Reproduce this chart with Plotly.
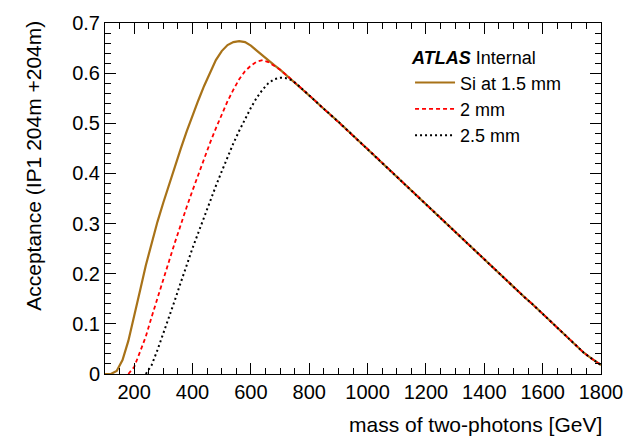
import plotly.graph_objects as go

# Acceptance vs. di-photon mass for three silicon-detector distances.
# Values are per 20 GeV step; above 760 GeV the three curves coincide.
mass_step = 20

mass_start_si15 = 100
accept_si15_low = [0.0, 0.0, 0.006, 0.028, 0.066, 0.114, 0.166, 0.217, 0.263, 0.304,
                   0.342, 0.379, 0.415, 0.450, 0.484, 0.516, 0.546, 0.575, 0.602, 0.626,
                   0.644, 0.656, 0.662, 0.664, 0.662, 0.655, 0.645, 0.635, 0.626, 0.616,
                   0.607, 0.597, 0.587]

mass_start_2mm = 180
accept_2mm_low = [0.0, 0.014, 0.044, 0.075, 0.114, 0.153, 0.190, 0.226, 0.263, 0.299,
                  0.333, 0.366, 0.398, 0.431, 0.461, 0.490, 0.518, 0.544, 0.567, 0.588,
                  0.604, 0.615, 0.623, 0.626, 0.622, 0.615, 0.607, 0.597, 0.587]

mass_start_25mm = 240
accept_25mm_low = [0.0, 0.018, 0.048, 0.080, 0.114, 0.148, 0.183, 0.218, 0.251, 0.282,
                   0.314, 0.346, 0.375, 0.404, 0.433, 0.460, 0.485, 0.509, 0.531, 0.551,
                   0.567, 0.580, 0.588, 0.591, 0.590, 0.586]

# common high-mass part (760 ... 1800 GeV)
mass_start_high = 760
accept_high = [0.577, 0.566, 0.556, 0.545, 0.534, 0.524, 0.514, 0.503, 0.492, 0.481,
               0.470, 0.459, 0.449, 0.438, 0.427, 0.416, 0.405, 0.394, 0.383, 0.372,
               0.361, 0.350, 0.339, 0.328, 0.317, 0.306, 0.295, 0.283, 0.271, 0.260,
               0.249, 0.238, 0.227, 0.216, 0.205, 0.195, 0.184, 0.174, 0.163, 0.152,
               0.142, 0.131, 0.120, 0.108, 0.097, 0.086, 0.075, 0.064, 0.053, 0.043,
               0.034, 0.026, 0.018]

x_tickvals = [200, 400, 600, 800, 1000, 1200, 1400, 1600, 1800]
y_tickvals = [0, 0.1, 0.2, 0.3, 0.4, 0.5, 0.6, 0.7]
y_ticktext = ["0", "0.1", "0.2", "0.3", "0.4", "0.5", "0.6", "0.7"]

series_names = ["Si at 1.5 mm", "2 mm", "2.5 mm"]
series_colors = ["rgb(168,114,24)", "rgb(255,0,0)", "rgb(0,0,0)"]
series_dash = ["solid", "4px,3px", "2px,3px"]
series_width = [2.2, 1.8, 2.0]


def full_series(start, low):
    acc = low + accept_high
    mass = [start + mass_step * i for i in range(len(acc))]
    return mass, acc


series = [
    full_series(mass_start_si15, accept_si15_low),
    full_series(mass_start_2mm, accept_2mm_low),
    full_series(mass_start_25mm, accept_25mm_low),
]

FONT = "Liberation Sans, Arial, Helvetica, sans-serif"

fig = go.Figure()
for (m, a), name, col, dash, w in zip(series, series_names, series_colors,
                                      series_dash, series_width):
    fig.add_trace(go.Scatter(
        x=m, y=a, mode="lines", name=name,
        line=dict(color=col, dash=dash, width=w),
    ))

axis_common = dict(
    showline=True, linecolor="black", linewidth=1, mirror="ticks",
    ticks="inside", ticklen=11, tickwidth=1, tickcolor="black",
    showgrid=False, zeroline=False,
    tickfont=dict(family=FONT, size=20, color="black"),
)

fig.update_xaxes(
    range=[100, 1800], tickvals=x_tickvals,
    minor=dict(ticks="inside", ticklen=6, dtick=50, tick0=0, tickcolor="black"),
    **axis_common,
)
fig.update_yaxes(
    range=[0, 0.7], tickvals=y_tickvals, ticktext=y_ticktext,
    minor=dict(ticks="inside", ticklen=6, dtick=0.02, tick0=0, tickcolor="black"),
    **axis_common,
)

fig.update_layout(
    width=635, height=437,
    margin=dict(l=105, r=30, t=16, b=63),
    paper_bgcolor="white", plot_bgcolor="white",
    font=dict(family=FONT, color="black"),
    showlegend=True,
    legend=dict(
        x=0.615, y=0.949, xanchor="left", yanchor="top",
        bgcolor="rgba(0,0,0,0)", borderwidth=0,
        font=dict(family=FONT, size=18, color="black"),
        title=dict(text="<b><i>ATLAS</i></b> Internal",
                   font=dict(family=FONT, size=18, color="black")),
        tracegroupgap=0, itemwidth=40,
    ),
    annotations=[
        dict(text="mass of two-photons [GeV]", xref="paper", yref="paper",
             x=1.0, y=-0.145, xanchor="right", yanchor="middle", xshift=3,
             showarrow=False, font=dict(family=FONT, size=21)),
        dict(text="Acceptance (IP1 204m +204m)", xref="paper", yref="paper",
             x=-0.144, y=0.592, xanchor="center", yanchor="middle",
             textangle=-90, showarrow=False, font=dict(family=FONT, size=21)),
    ],
)

fig.write_html("out.html")
